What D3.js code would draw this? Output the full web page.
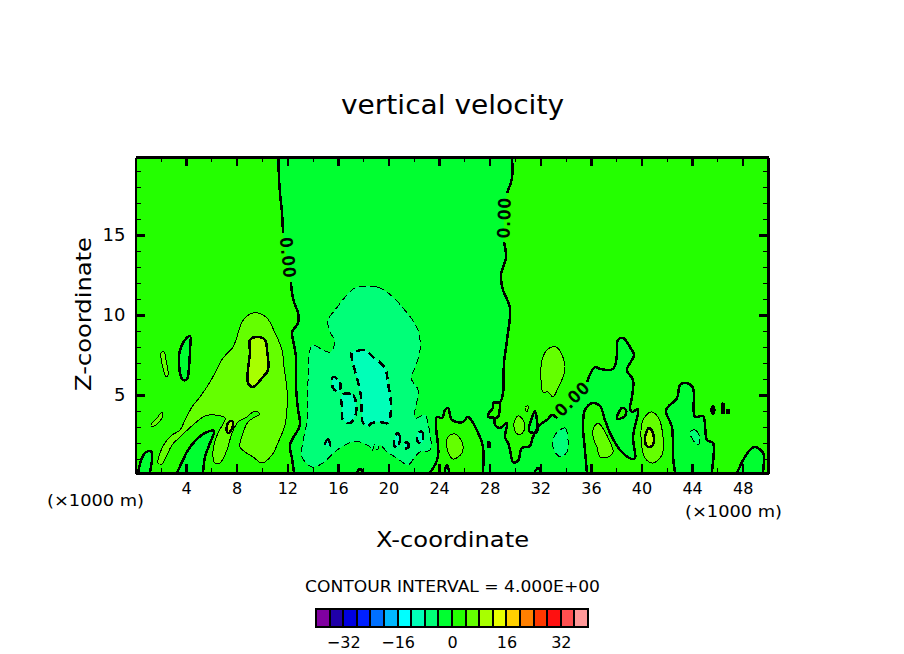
<!DOCTYPE html>
<html>
<head>
<meta charset="utf-8">
<script src="https://cdn.jsdelivr.net/npm/d3@7"></script>
<style>
  body { margin: 0; background: #fff; }
  svg { display: block; shape-rendering: crispEdges; }
  text { font-family: "DejaVu Sans", sans-serif; fill: #000; }
  .contour { fill: none; stroke: #000; stroke-linejoin: round; }
</style>
</head>
<body>
<svg id="chart" width="904" height="654"></svg>
<script>
// all contour points are [x in km, z in km]
var xDomain = [0, 50];
var zDomain = [0.125, 19.875];
var xLabels = [4, 8, 12, 16, 20, 24, 28, 32, 36, 40, 44, 48];
var xMinor = [2, 6, 10, 14, 18, 22, 26, 30, 34, 38, 42, 46];
var zLabels = [5, 10, 15];
var zMinor = [1, 2, 3, 4, 6, 7, 8, 9, 11, 12, 13, 14, 16, 17, 18, 19];
var barLabels = [-32, -16, 0, 16, 32];
var barLevels = [-40, -36, -32, -28, -24, -20, -16, -12, -8, -4, 0, 4, 8, 12, 16, 20, 24, 28, 32, 36];
var barColors = ['#8000a0', '#2000a8', '#0000e0', '#0020ff', '#0070ff', '#00b8ff', '#00ffff', '#00ffb8',
    '#00ff78', '#00ff30', '#24ff00', '#64ff00', '#a8ff00', '#e8ff00', '#ffd000', '#ff8000',
    '#ff3800', '#ff1010', '#ff5050', '#ff9898'];

// the long zero line that bounds the central downdraft, in pieces (gaps are the labels)
var zeroWestUpper = [[11.30, 19.875], [11.34, 18.63], [11.42, 17.63], [11.58, 16.38], [11.66, 15.13]];
var zeroWestLower = [[12.29, 12.06], [12.37, 11.38], [12.53, 10.81], [12.85, 10.13], [12.85, 9.50], [12.37, 8.94],
    [12.45, 8.44], [12.69, 7.38], [12.69, 5.50], [12.85, 4.06], [13.00, 3.13], [12.21, 1.88], [12.37, 1.06], [12.53, 0.125]];
var zeroHillA = [[23.28, 0.125], [23.91, 1.13], [23.75, 3.13], [23.83, 3.63], [24.23, 3.56], [24.47, 4.06], [24.70, 4.19],
    [25.02, 3.44], [25.89, 3.31], [26.28, 3.63], [27.23, 2.38], [27.47, 1.75], [27.47, 0.125]];
var zeroRidgeEast = [[35.69, 0.125], [35.53, 1.56], [35.38, 3.00], [35.53, 4.06], [36.16, 4.50], [36.72, 4.31], [37.11, 3.44],
    [37.51, 2.63], [38.30, 1.56], [39.25, 1.00], [39.49, 1.06], [39.33, 2.38], [39.72, 4.13], [39.25, 3.94], [39.09, 4.19],
    [39.25, 4.88], [39.33, 5.94], [38.85, 6.56], [39.41, 7.50], [39.09, 8.00], [38.54, 8.56], [38.14, 8.44], [38.06, 7.50],
    [37.75, 6.63], [36.72, 6.63], [36.32, 6.75], [35.69, 5.81]];
var zeroRidgeMid = [[33.32, 3.56], [32.93, 3.75], [32.53, 3.44], [31.97, 3.13], [31.42, 2.38], [31.18, 1.81], [30.55, 1.69],
    [30.24, 0.88], [29.85, 0.81], [29.61, 1.56], [29.45, 2.00], [29.21, 2.38], [29.37, 3.25], [28.82, 2.94], [28.42, 3.13],
    [28.34, 3.56], [27.87, 3.63], [27.94, 3.88], [28.26, 4.19], [28.26, 4.50], [28.82, 4.56], [29.05, 5.13], [29.13, 7.00],
    [29.37, 8.44], [29.60, 10.44], [29.05, 11.56], [28.89, 12.50], [29.29, 13.63], [29.13, 14.56]];
var zeroEastTop = [[29.37, 17.63], [29.76, 18.56], [29.76, 19.875]];
var zeroLoop = [[28.82, 4.56], [28.66, 3.63], [28.34, 3.56]];

// blobs cut by the ground run on a little below it, the clip hides that part
var zeroBlobs = [
    [[0.10, -0.6], [0.20, 0.125], [0.51, 1.06], [0.75, 1.38], [1.22, 1.50], [1.30, 0.94], [1.14, 0.125], [1.10, -0.6]],
    [[2.90, -0.6], [3.28, 0.125], [3.68, 0.81], [4.15, 1.56], [4.94, 2.31], [5.49, 2.63], [6.21, 2.75], [5.89, 2.00], [5.49, 1.13], [5.34, 0.125], [5.30, -0.6]],
    [[4.31, 8.69], [3.91, 8.44], [3.52, 7.81], [3.44, 7.00], [3.60, 6.13], [3.75, 5.94], [4.07, 6.00], [4.23, 6.75], [4.31, 7.81]],
    [[31.57, 4.00], [31.73, 3.44], [31.73, 2.69], [31.18, 2.69], [31.10, 2.94], [31.42, 3.75]],
    [[42.70, -0.6], [42.65, 0.125], [42.49, 1.13], [42.41, 3.00], [41.94, 4.06], [42.81, 4.81], [43.05, 5.63], [43.60, 5.75], [44.07, 5.44],
        [44.23, 3.63], [44.86, 3.69], [45.18, 2.19], [45.65, 2.00], [45.57, 0.125], [45.55, -0.6]],
    [[47.20, -0.6], [47.55, 0.125], [48.18, 1.13], [48.89, 1.75], [49.61, 1.38], [49.61, 0.125], [49.61, -0.6]],
    [[24.47, 0.125], [24.62, 0.63], [24.78, 0.125]],
    [[31.57, 0.125], [31.81, 0.44], [32.06, 0.125]],
    [[45.58, 4.25], [45.72, 4.25], [45.72, 3.88], [45.58, 3.88]],
    [[46.40, 4.44], [46.48, 4.44], [46.48, 3.88], [46.40, 3.88]],
    [[46.80, 4.06], [46.88, 4.06], [46.88, 3.88], [46.80, 3.88]],
    [[27.90, 2.06], [27.98, 2.06], [27.98, 1.75], [27.90, 1.75]]
];
var zeroHoles = [
    [[38.06, 3.56], [38.46, 4.19], [38.78, 4.06], [38.70, 3.69], [38.14, 3.50]],
    [[17.51, 0.125], [17.75, 0.375], [17.99, 0.125]]
];

var plusFour = [
    [[1.78, 0.75], [1.94, 1.38], [2.33, 2.00], [2.89, 2.50], [3.52, 2.81], [3.91, 3.44], [4.47, 4.25], [5.10, 4.88], [5.89, 5.81],
        [6.52, 6.75], [6.92, 7.31], [7.71, 8.00], [8.02, 8.63], [8.42, 9.56], [9.05, 10.06], [9.68, 10.13], [10.40, 9.81],
        [11.03, 8.88], [11.58, 7.81], [11.74, 6.75], [11.98, 5.31], [11.98, 4.25], [11.82, 3.13], [11.26, 2.00], [10.79, 1.25],
        [10.00, 0.75], [9.29, 1.13], [8.66, 1.44], [8.26, 1.75], [8.50, 2.63], [8.89, 3.31], [9.45, 3.63], [9.76, 3.75], [9.68, 3.94],
        [9.29, 3.94], [8.81, 3.63], [8.10, 3.31], [7.63, 2.63], [7.23, 1.56], [6.68, 0.75], [6.28, 0.75], [6.13, 1.56], [6.52, 2.63],
        [7.08, 3.56], [6.28, 3.75], [5.49, 3.69], [4.55, 3.13], [3.52, 2.38], [2.89, 1.88], [2.49, 1.25], [2.09, 0.69]],
    [[2.02, 7.63], [2.25, 7.69], [2.41, 7.19], [2.57, 6.25], [2.41, 6.13], [2.17, 6.69]],
    [[1.22, 3.13], [1.70, 3.56], [2.09, 3.94], [2.09, 3.56], [1.70, 3.19], [1.30, 3.00]],
    [[24.70, 2.38], [25.26, 2.56], [25.81, 2.06], [25.81, 1.38], [25.10, 1.00], [24.62, 1.69]],
    [[30.24, 3.69], [30.63, 3.44], [30.79, 2.94], [30.47, 2.56], [30.08, 2.63], [29.92, 3.25]],
    [[32.13, 7.19], [32.61, 7.88], [33.24, 8.00], [33.72, 7.50], [33.95, 6.56], [33.40, 5.44], [33.00, 4.88], [32.61, 5.19],
        [32.21, 5.19], [32.05, 6.38]],
    [[36.16, 2.81], [36.56, 3.25], [37.03, 2.81], [37.51, 2.06], [37.75, 1.44], [37.35, 1.13], [36.72, 1.13], [36.48, 1.75], [36.24, 2.19]],
    [[39.96, 2.38], [40.12, 3.44], [40.75, 3.94], [41.30, 3.63], [41.70, 2.38], [41.62, 1.25], [40.91, 0.75], [40.28, 1.06]],
    [[30.79, 4.25], [30.95, 3.94], [31.03, 4.31]]
];
var plusEight = [
    [[9.05, 8.44], [9.60, 8.63], [10.24, 8.44], [10.40, 7.81], [10.47, 6.56], [10.00, 6.06], [9.29, 5.50], [8.89, 5.75], [8.89, 6.56], [9.05, 7.63]],
    [[40.28, 2.38], [40.59, 2.94], [40.91, 2.63], [40.91, 1.88], [40.59, 1.75], [40.36, 1.88]],
    [[7.23, 2.69], [7.31, 3.25], [7.63, 3.38], [7.71, 3.13], [7.39, 2.63]]
];
var minusFour = [
    [[18.14, 11.81], [19.09, 11.75], [19.96, 11.38], [21.15, 10.44], [22.33, 9.06], [22.49, 7.81], [22.09, 6.69], [21.78, 6.06],
        [22.33, 5.31], [22.09, 3.56], [22.89, 3.75], [23.12, 3.25], [23.28, 1.56], [22.49, 1.44], [22.09, 1.13], [21.54, 0.63],
        [20.67, 1.06], [19.88, 1.44], [19.33, 1.88], [19.10, 1.55], [18.90, 1.90], [18.70, 1.50], [18.54, 1.75], [17.75, 2.06],
        [17.12, 2.06], [15.93, 1.56], [14.82, 0.75], [13.95, 0.50], [13.16, 1.13], [13.16, 1.75], [13.56, 3.44], [13.64, 5.94],
        [13.79, 7.81], [14.03, 8.13], [14.82, 7.81], [15.38, 7.69], [15.77, 8.31], [15.30, 9.06], [15.22, 9.69], [15.77, 10.31],
        [16.72, 11.25], [17.35, 11.69]],
    [[33.16, 2.50], [33.95, 2.94], [34.19, 2.19], [34.11, 1.44], [33.56, 1.13], [33.00, 1.75]],
    [[43.83, 2.69], [44.23, 2.81], [44.62, 2.31], [44.47, 1.88], [44.07, 2.19]]
];
var minusEight = [
    [[17.12, 7.69], [17.51, 7.75], [18.14, 7.81], [18.77, 7.38], [19.72, 6.69], [19.96, 5.75], [20.20, 4.25], [19.96, 3.25],
        [19.33, 3.31], [18.70, 3.25], [18.38, 3.06], [17.99, 3.25], [17.83, 4.88], [17.51, 6.06], [17.12, 7.19]],
    [[16.32, 5.00], [17.19, 5.00], [17.43, 3.88], [16.96, 3.25], [16.40, 3.44], [16.32, 4.25]],
    [[15.61, 6.13], [16.17, 5.81], [16.09, 5.19], [15.61, 5.44]],
    [[20.67, 2.63], [20.91, 2.38], [20.67, 1.69], [20.43, 1.88]],
    [[22.33, 2.63], [22.65, 2.69], [22.65, 2.00], [22.33, 2.06]],
    [[14.98, 1.88], [15.22, 2.25], [15.38, 1.81]],
    [[21.30, 2.00], [21.54, 2.00], [21.54, 1.69], [21.30, 1.69]]
];

var svg = d3.select('#chart');
var x = d3.scaleLinear().domain(xDomain).range([135.5, 768]);
var z = d3.scaleLinear().domain(zDomain).range([473, 157]);
var barX = d3.scaleLinear().domain([-40, 40]).range([316, 588]);
var bandColor = d3.scaleQuantize().domain([-40, 40]).range(barColors);

var line = d3.line().x(function (d) { return x(d[0]); }).y(function (d) { return z(d[1]); }).curve(d3.curveCatmullRom);
var ring = d3.line().x(function (d) { return x(d[0]); }).y(function (d) { return z(d[1]); }).curve(d3.curveCatmullRomClosed);

svg.append('clipPath').attr('id', 'plot-clip').append('rect')
    .attr('x', x(0)).attr('y', z(zDomain[1]))
    .attr('width', x(50) - x(0)).attr('height', z(zDomain[0]) - z(zDomain[1]));

// painted from the outside in, so inner bands cover the outer ones
svg.append('rect')
    .attr('x', x(0)).attr('y', z(zDomain[1]))
    .attr('width', x(50) - x(0)).attr('height', z(zDomain[0]) - z(zDomain[1]))
    .attr('fill', bandColor(2));

var plot = svg.append('g').attr('clip-path', 'url(#plot-clip)');

var centralBand = [].concat(zeroWestUpper, zeroWestLower, zeroHillA, zeroRidgeEast, zeroRidgeMid, zeroEastTop);
plot.append('path').attr('d', ring(centralBand)).attr('fill', bandColor(-2));

function drawBands(rings, band) {
    plot.selectAll(null).data(rings).enter().append('path')
        .attr('d', ring)
        .attr('fill', bandColor(band));
}
drawBands(zeroBlobs, -2);
drawBands(zeroHoles, 2);
drawBands(plusFour, 6);
drawBands(plusEight, 10);
drawBands(minusFour, -6);
drawBands(minusEight, -10);

function drawRings(rings, cls) {
    plot.selectAll(null).data(rings).enter().append('path')
        .attr('class', 'contour')
        .attr('d', ring)
        .call(cls);
}
function thick(sel) { sel.attr('stroke-width', 2.5); }
function thin(sel) { sel.attr('stroke-width', 1); }
function thinDash(sel) { sel.attr('stroke-width', 1).attr('stroke-dasharray', '7 4'); }
function thickDash(sel) { sel.attr('stroke-width', 2.5).attr('stroke-dasharray', '8 5'); }

drawRings(plusFour, thin);
drawRings(minusFour, thinDash);
drawRings(plusEight, thick);
drawRings(minusEight, thickDash);
drawRings(zeroBlobs, thick);
drawRings(zeroHoles, thick);

var zeroLines = [zeroWestUpper, zeroWestLower, zeroHillA, zeroRidgeEast, zeroRidgeMid, zeroEastTop, zeroLoop];
plot.selectAll(null).data(zeroLines).enter().append('path')
    .attr('class', 'contour')
    .attr('d', line)
    .attr('stroke-width', 2.5);

// labels sit in the gaps of the zero line
var zeroLabels = [[12.06, 13.6, 84], [29.13, 16.06, -88], [34.5, 4.75, -45]];
plot.selectAll(null).data(zeroLabels).enter().append('text')
    .attr('transform', function (d) { return 'translate(' + x(d[0]) + ',' + z(d[1]) + ') rotate(' + d[2] + ')'; })
    .attr('text-anchor', 'middle')
    .attr('dy', '0.36em')
    .attr('font-size', 16)
    .attr('stroke', '#000')
    .attr('stroke-width', 0.9)
    .attr('textLength', 40)
    .attr('lengthAdjust', 'spacing')
    .text('0.00');

function axisFrame(g, major) {
    g.select('.domain').attr('stroke-width', 2.5);
    g.selectAll('.tick line').attr('stroke-width', major ? 2.5 : 1);
    return g;
}

var noLabel = function () { return ''; };

axisFrame(svg.append('g').attr('transform', 'translate(0,' + z.range()[0] + ')')
    .call(d3.axisBottom(x).tickValues(xLabels).tickSize(-9).tickSizeOuter(0).tickPadding(10).tickFormat(d3.format('d'))), true)
    .selectAll('text').attr('font-size', 16);
axisFrame(svg.append('g').attr('transform', 'translate(0,' + z.range()[1] + ')')
    .call(d3.axisTop(x).tickValues(xLabels).tickSize(-9).tickSizeOuter(0).tickFormat(noLabel)), true);
axisFrame(svg.append('g').attr('transform', 'translate(' + x(0) + ',0)')
    .call(d3.axisLeft(z).tickValues(zLabels).tickSize(-9).tickSizeOuter(0).tickPadding(10).tickFormat(d3.format('d'))), true)
    .selectAll('text').attr('font-size', 18);
axisFrame(svg.append('g').attr('transform', 'translate(' + x(50) + ',0)')
    .call(d3.axisRight(z).tickValues(zLabels).tickSize(-9).tickSizeOuter(0).tickFormat(noLabel)), true);

svg.append('g').attr('transform', 'translate(0,' + z.range()[0] + ')')
    .call(d3.axisBottom(x).tickValues(xMinor).tickSize(-5).tickSizeOuter(0).tickFormat(noLabel))
    .select('.domain').remove();
svg.append('g').attr('transform', 'translate(0,' + z.range()[1] + ')')
    .call(d3.axisTop(x).tickValues(xMinor).tickSize(-5).tickSizeOuter(0).tickFormat(noLabel))
    .select('.domain').remove();
svg.append('g').attr('transform', 'translate(' + x(0) + ',0)')
    .call(d3.axisLeft(z).tickValues(zMinor).tickSize(-5).tickSizeOuter(0).tickFormat(noLabel))
    .select('.domain').remove();
svg.append('g').attr('transform', 'translate(' + x(50) + ',0)')
    .call(d3.axisRight(z).tickValues(zMinor).tickSize(-5).tickSizeOuter(0).tickFormat(noLabel))
    .select('.domain').remove();

function label(txt, px, py, size, length, rotate) {
    var t = svg.append('text')
        .attr('text-anchor', 'middle')
        .attr('font-size', size)
        .attr('textLength', length)
        .attr('lengthAdjust', 'spacingAndGlyphs')
        .attr('transform', 'translate(' + px + ',' + py + ')' + (rotate ? ' rotate(' + rotate + ')' : ''))
        .text(txt);
    return t;
}
label('vertical velocity', 452.5, 114, 26, 223);
label('X-coordinate', 452.5, 547, 21, 153);
label('Z-coordinate', 91, 314, 21, 154, -90);
label('(\u00d71000 m)', 95.5, 506, 16, 97);
label('(\u00d71000 m)', 733.5, 517, 16, 97);
label('CONTOUR INTERVAL = 4.000E+00', 452.5, 592, 16, 295);

// colour bar
svg.append('g').selectAll('rect').data(barLevels).enter().append('rect')
    .attr('x', function (d) { return barX(d); })
    .attr('y', 609)
    .attr('width', function (d) { return barX(d + 4) - barX(d); })
    .attr('height', 18)
    .attr('fill', function (d) { return bandColor(d + 2); })
    .attr('stroke', '#000')
    .attr('stroke-width', 2);

var barAxis = svg.append('g').attr('transform', 'translate(0,627)')
    .call(d3.axisBottom(barX).tickValues(barLabels).tickSize(0).tickPadding(10));
barAxis.select('.domain').remove();
barAxis.selectAll('text').attr('font-size', 16);
</script>
</body>
</html>
